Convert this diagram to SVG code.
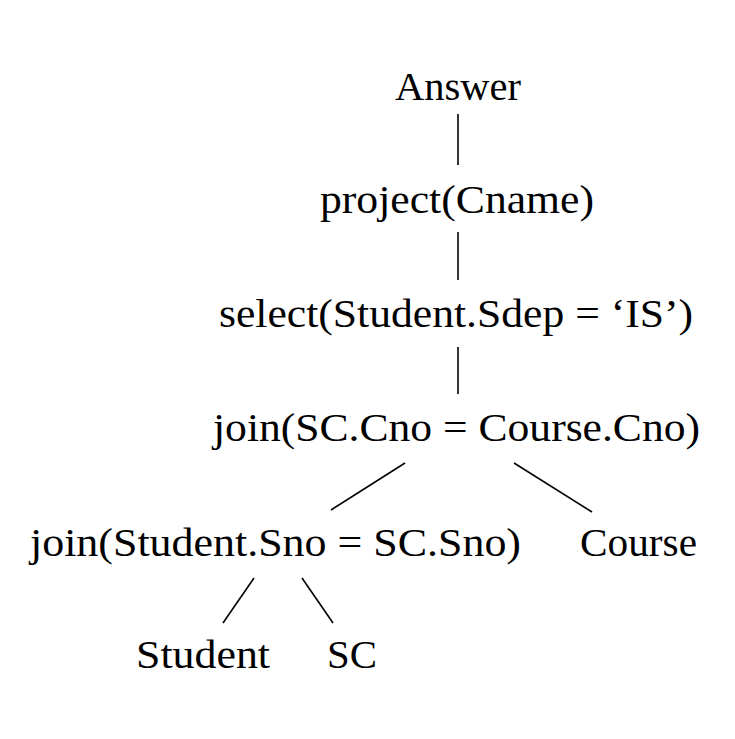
<svg xmlns="http://www.w3.org/2000/svg" width="735" height="739" viewBox="0 0 735 739">
<style>
text{font-family:'Liberation Serif','DejaVu Serif','Times New Roman',serif;font-size:40px;fill:#000}
.e{stroke:#000;stroke-width:1.6;fill:none}
</style>
<rect width="735" height="739" fill="#fff"/>
<g id="connectors">
<line class="e" x1="458" y1="114" x2="458" y2="165"/>
<line class="e" x1="458" y1="232" x2="458" y2="280"/>
<line class="e" x1="458" y1="347" x2="458" y2="394"/>
<line class="e" x1="405" y1="463" x2="331" y2="510"/>
<line class="e" x1="514" y1="463" x2="592" y2="512"/>
<line class="e" x1="254" y1="578" x2="223" y2="623"/>
<line class="e" x1="302" y1="578" x2="333" y2="623"/>
</g>
<g id="answer"><text x="395" y="100" textLength="126" lengthAdjust="spacingAndGlyphs">Answer</text></g>
<g id="project"><text x="320" y="213" textLength="274" lengthAdjust="spacingAndGlyphs">project(Cname)</text></g>
<g id="select"><text x="219" y="327" textLength="474" lengthAdjust="spacingAndGlyphs">select(Student.Sdep = ‘IS’)</text></g>
<g id="join1"><text x="213" y="441" textLength="487" lengthAdjust="spacingAndGlyphs">join(SC.Cno = Course.Cno)</text></g>
<g id="join2"><text x="30" y="556" textLength="491" lengthAdjust="spacingAndGlyphs">join(Student.Sno = SC.Sno)</text></g>
<g id="course"><text x="580" y="556" textLength="117" lengthAdjust="spacingAndGlyphs">Course</text></g>
<g id="student"><text x="136" y="668" textLength="134" lengthAdjust="spacingAndGlyphs">Student</text></g>
<g id="sc"><text x="327" y="668" textLength="50" lengthAdjust="spacingAndGlyphs">SC</text></g>
</svg>
